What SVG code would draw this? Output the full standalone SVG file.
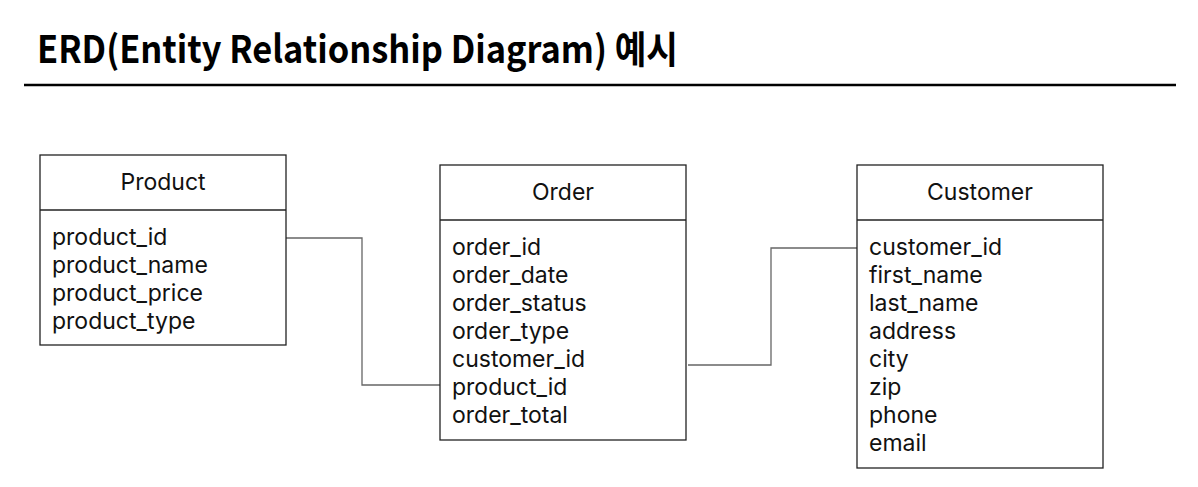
<svg xmlns="http://www.w3.org/2000/svg" width="1198" height="487" viewBox="0 0 1198 487">
<style>
.box{fill:#fff;stroke:#222;stroke-width:1.3}
.div{stroke:#222;stroke-width:1.3}
.t{font-family:Inter,"Noto Sans",sans-serif;font-size:23px;fill:#111}
.h{text-anchor:middle}
.conn{fill:none;stroke:#666;stroke-width:1.3}
.title{font-family:"Noto Sans CJK KR","Noto Sans",sans-serif;font-weight:bold;font-size:38px;fill:#000}
</style>
<rect width="1198" height="487" fill="#fff"/>
<text class="title" x="37" y="63" textLength="641" lengthAdjust="spacingAndGlyphs">ERD(Entity Relationship Diagram) 예시</text>
<line x1="24" y1="85" x2="1176" y2="85" stroke="#000" stroke-width="2.5"/>
<g id="connectors">
<polyline class="conn" points="286,238 362,238 362,385 440,385"/>
<polyline class="conn" points="688,365 771,365 771,248 857,248"/>
</g>
<g id="product">
<rect class="box" x="40" y="155" width="246" height="190"/>
<line class="div" x1="40" y1="210" x2="286" y2="210"/>
<text class="t h" x="163" y="190">Product</text>
<text class="t" x="52" y="245">product_id</text>
<text class="t" x="52" y="273">product_name</text>
<text class="t" x="52" y="301">product_price</text>
<text class="t" x="52" y="329">product_type</text>
</g>
<g id="order">
<rect class="box" x="440" y="165" width="246" height="275"/>
<line class="div" x1="440" y1="220" x2="686" y2="220"/>
<text class="t h" x="563" y="200">Order</text>
<text class="t" x="452" y="255">order_id</text>
<text class="t" x="452" y="283">order_date</text>
<text class="t" x="452" y="311">order_status</text>
<text class="t" x="452" y="339">order_type</text>
<text class="t" x="452" y="367">customer_id</text>
<text class="t" x="452" y="395">product_id</text>
<text class="t" x="452" y="423">order_total</text>
</g>
<g id="customer">
<rect class="box" x="857" y="165" width="246" height="303"/>
<line class="div" x1="857" y1="220" x2="1103" y2="220"/>
<text class="t h" x="980" y="200">Customer</text>
<text class="t" x="869" y="255">customer_id</text>
<text class="t" x="869" y="283">first_name</text>
<text class="t" x="869" y="311">last_name</text>
<text class="t" x="869" y="339">address</text>
<text class="t" x="869" y="367">city</text>
<text class="t" x="869" y="395">zip</text>
<text class="t" x="869" y="423">phone</text>
<text class="t" x="869" y="451">email</text>
</g>
</svg>
